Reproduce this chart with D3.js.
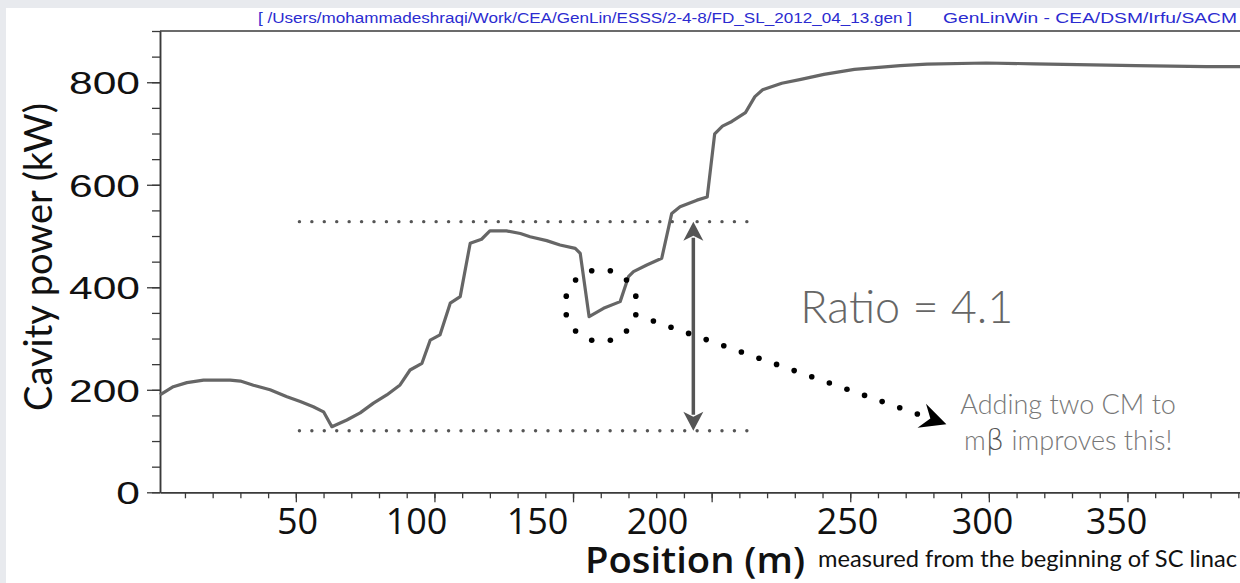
<!DOCTYPE html>
<html>
<head>
<meta charset="utf-8">
<script src="https://cdn.jsdelivr.net/npm/d3@7"></script>
<style>
  html, body { margin: 0; padding: 0; background: #e8eaee; }
  svg { display: block; }
</style>
</head>
<body>
<svg id="chart" width="1240" height="583"></svg>
<script>
// Cavity power along the superconducting linac (GenLin output)
const positionM = [1, 5.8, 10.7, 16.7, 26.3, 30, 34.7, 40.7, 46.8, 51.6, 56.3, 60, 63,
  68.4, 73.2, 78, 82.8, 87.6, 91.2, 95.5, 98.5, 102, 105.7, 109.3, 112.9, 117,
  120, 126, 131, 134.5, 140.5, 145.3, 150.8, 152.6, 155.8, 161, 167, 170, 171.8,
  176.6, 182, 185.6, 188.6, 194.7, 198.4, 201.1, 203.9, 207.3, 212.2, 215.6,
  218.4, 225.3, 232.2, 240.5, 251.5, 268, 277.7, 299, 316.4, 353, 378.5, 390.6];
const cavityPowerKW = [190, 206, 214, 219, 219, 217, 209, 200, 186.5, 177, 167, 157, 128,
  141, 155, 174, 190, 209.5, 238.6, 251.7, 297, 307, 369, 381.7, 486, 493.7,
  510, 510, 505, 498.7, 491, 482.5, 476, 466, 342.6, 359, 372, 420.7, 430.4,
  443.5, 456.6, 544, 557, 570, 576, 699.5, 714.5, 723.5, 740.7, 772,
  785.4, 798, 805.6, 815.4, 825, 832.6, 835.5, 837.6, 836, 832.6, 830.5, 830.5];

const yMajorTicks = [0, 200, 400, 600, 800];
const xMajorTicks = [50, 100, 150, 200, 250, 300, 350];
// the position labels were set in by hand along the axis, so they have their own spacing
const xLabelSlots = [297, 416, 537, 657, 847, 982, 1116];

// band spanned by the medium-beta section
const bandLowKW = 120;
const bandHighKW = 528;
const bandFromM = 51.3;
const bandToM = 212.7;
const ratioAtM = 193.4;
const ratioLabel = "Ratio = 4.1";

// callout: loop around the dip and an arrow to the note
const dipCentre = { m: 160.1, kw: 364.5 };
const noteArrowEnd = { m: 274.2, kw: 152.8 };
const noteLines = ["Adding two CM to", "m|β| improves this!"];

const headerPath = "[ /Users/mohammadeshraqi/Work/CEA/GenLin/ESSS/2-4-8/FD_SL_2012_04_13.gen ]";
const headerTool = "GenLinWin - CEA/DSM/Irfu/SACM";

const W = 1240, H = 583;
const svg = d3.select("#chart");

// page panel
svg.append("rect").attr("width", W).attr("height", H).attr("fill", "#e8eaee");
svg.append("rect").attr("x", 6).attr("y", 8).attr("width", W - 6).attr("height", H - 8).attr("fill", "#ffffff");

const x = d3.scaleLinear().domain([1, 390.6]).range([160, 1240]);
const y = d3.scaleLinear().domain([0, 900]).range([492.3, 31]);
const xLabel = d3.scaleLinear().domain(xMajorTicks).range(xLabelSlots);

const axisColor = "#3a3a3a";

// header (the plot window stretches its text horizontally)
svg.append("text").attr("x", 258).attr("y", 23)
  .attr("font-family", "Liberation Sans, Arial, sans-serif").attr("font-size", 14)
  .attr("textLength", 654).attr("lengthAdjust", "spacingAndGlyphs")
  .attr("fill", "#2b2bd0").text(headerPath);
svg.append("text").attr("x", 943).attr("y", 23)
  .attr("font-family", "Liberation Sans, Arial, sans-serif").attr("font-size", 14)
  .attr("textLength", 294).attr("lengthAdjust", "spacingAndGlyphs")
  .attr("fill", "#2b2bd0").text(headerTool);

// frame top
svg.append("line").attr("x1", x.range()[0]).attr("x2", x.range()[1])
  .attr("y1", y(900)).attr("y2", y(900)).attr("stroke", axisColor).attr("stroke-width", 1.5);

function styleAxis(g) {
  g.selectAll("path.domain").attr("stroke", axisColor).attr("stroke-width", 1.5);
  g.selectAll(".tick line").attr("stroke", axisColor).attr("stroke-width", 1.3);
}

// y axis: minor every 50, major every 200
const yMinor = svg.append("g").attr("transform", `translate(${x.range()[0]},0)`)
  .call(d3.axisLeft(y).tickValues(d3.range(0, 901, 50)).tickSize(8).tickSizeOuter(0).tickFormat(""));
styleAxis(yMinor);
const yMajor = svg.append("g").attr("transform", `translate(${x.range()[0]},0)`)
  .call(d3.axisLeft(y).tickValues(yMajorTicks).tickSize(13).tickSizeOuter(0).tickFormat(d3.format("d")));
styleAxis(yMajor);
yMajor.selectAll(".tick text")
  .attr("x", 0).attr("dy", "0.36em").attr("text-anchor", "end")
  .attr("transform", "translate(-20,0) scale(1.33,1)")
  .attr("font-family", "Liberation Sans, Arial, sans-serif").attr("font-size", 32)
  .attr("fill", "#111");

// x axis: minor every 10 m, major every 50 m
const xMinor = svg.append("g").attr("transform", `translate(0,${y(0)})`)
  .call(d3.axisBottom(x).tickValues(d3.range(10, 391, 10)).tickSize(6).tickSizeOuter(0).tickFormat(""));
styleAxis(xMinor);
const xMajor = svg.append("g").attr("transform", `translate(0,${y(0)})`)
  .call(d3.axisBottom(x).tickValues(xMajorTicks).tickSize(10).tickSizeOuter(0).tickFormat(""));
styleAxis(xMajor);
const xLabels = svg.append("g").attr("transform", `translate(0,${y(0)})`)
  .call(d3.axisBottom(xLabel).tickValues(xMajorTicks).tickSize(0).tickFormat(d3.format("d")));
xLabels.select("path.domain").remove();
xLabels.selectAll(".tick text")
  .attr("y", 42).attr("dy", null)
  .attr("font-family", "Open Sans, sans-serif").attr("font-size", 36)
  .attr("fill", "#111");

// axis titles
svg.append("text")
  .attr("transform", `translate(52,257) rotate(-90)`)
  .attr("text-anchor", "middle")
  .attr("font-family", "Lato, Open Sans, sans-serif").attr("font-size", 38)
  .attr("fill", "#111").text("Cavity power (kW)");
svg.append("text").attr("x", 585).attr("y", 573)
  .attr("font-family", "Open Sans, sans-serif").attr("font-size", 36).attr("font-weight", 600)
  .attr("textLength", 220).attr("lengthAdjust", "spacingAndGlyphs")
  .attr("fill", "#111").text("Position (m)");
svg.append("text").attr("x", 818).attr("y", 567)
  .attr("font-family", "Lato, sans-serif").attr("font-size", 23)
  .attr("textLength", 419).attr("lengthAdjust", "spacingAndGlyphs")
  .attr("fill", "#111").text("measured from the beginning of SC linac");

// power curve
const line = d3.line().x(d => x(d[0])).y(d => y(d[1]));
svg.append("path")
  .datum(d3.zip(positionM, cavityPowerKW))
  .attr("d", line)
  .attr("fill", "none").attr("stroke", "#666").attr("stroke-width", 3.2)
  .attr("stroke-linejoin", "round");

// dotted band limits
const dotGap = 12.43;
[bandLowKW, bandHighKW].forEach(v => {
  const x0 = x(bandFromM), x1 = x(bandToM);
  const n = Math.round((x1 - x0) / dotGap);
  svg.append("g").selectAll("circle").data(d3.range(n + 1)).join("circle")
    .attr("cx", i => x0 + (x1 - x0) * i / n).attr("cy", y(v))
    .attr("r", 1.7).attr("fill", "#555");
});

// double-headed arrow across the band
const ax = x(ratioAtM), yTop = y(bandHighKW), yBot = y(bandLowKW);
const headL = 19, headW = 10;
svg.append("line").attr("x1", ax).attr("x2", ax)
  .attr("y1", yTop + headL - 3).attr("y2", yBot - headL + 3)
  .attr("stroke", "#555").attr("stroke-width", 3.5);
const headPath = (tx, ty, dir) =>
  `M${tx},${ty} L${tx + headW},${ty + dir * headL} L${tx},${ty + dir * (headL - 5)} L${tx - headW},${ty + dir * headL} Z`;
svg.append("path").attr("d", headPath(ax, yTop, 1)).attr("fill", "#555");
svg.append("path").attr("d", headPath(ax, yBot, -1)).attr("fill", "#555");

svg.append("text").attr("x", x(232)).attr("y", y(331))
  .attr("font-family", "Lato, sans-serif").attr("font-weight", 300).attr("font-size", 45)
  .attr("fill", "#666").text(ratioLabel);

// loop of dots round the dip, then a dotted arrow to the note
const cx = x(dipCentre.m), cy = y(dipCentre.kw), r = 36;
const loopDots = d3.range(12).map(k => {
  const a = (-15 - 30 * k) * Math.PI / 180;
  return [cx + r * Math.cos(a), cy + r * Math.sin(a)];
});
const start = loopDots[11];
const end = [x(noteArrowEnd.m), y(noteArrowEnd.kw)];
const runDots = d3.range(1, 17).map(i => [
  start[0] + (end[0] - start[0]) * i / 16,
  start[1] + (end[1] - start[1]) * i / 16
]);
svg.append("g").selectAll("circle").data(loopDots.concat(runDots)).join("circle")
  .attr("cx", d => d[0]).attr("cy", d => d[1]).attr("r", 2.8).attr("fill", "#000");

const ang = Math.atan2(end[1] - start[1], end[0] - start[0]);
const tipDist = 30.8;
const tip = [end[0] + tipDist * Math.cos(ang), end[1] + tipDist * Math.sin(ang)];
svg.append("path")
  .attr("transform", `translate(${tip[0]},${tip[1]}) rotate(${ang * 180 / Math.PI})`)
  .attr("d", "M0,0 L-26,-12.5 L-17,0 L-26,13 Z")
  .attr("fill", "#000");

// note text
const note = svg.append("text")
  .attr("text-anchor", "middle")
  .attr("font-family", "Lato, sans-serif").attr("font-weight", 300).attr("font-size", 27)
  .attr("fill", "#777");
noteLines.forEach((ln, i) => {
  const t = note.append("tspan").attr("x", x(328.6)).attr("y", y(i === 0 ? 153 : 82.5));
  ln.split("|").forEach((part, j) => {
    const s = t.append("tspan").text(part);
    if (j === 1) s.attr("font-family", "DejaVu Sans, sans-serif").attr("font-size", 29).attr("fill", "#555");
  });
});
</script>
</body>
</html>
